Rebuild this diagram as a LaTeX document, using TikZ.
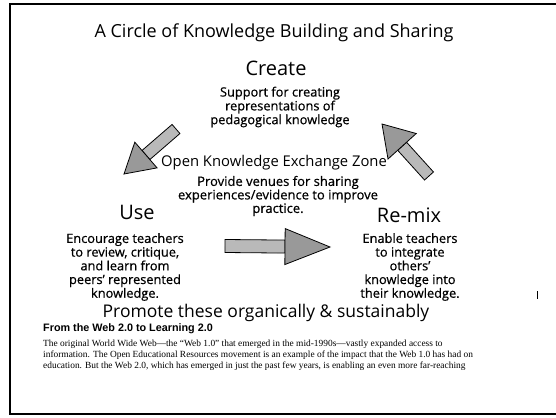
\documentclass[tikz,border=0pt]{standalone}
\usepackage{fontspec}
\setmainfont{Open Sans}
\newfontfamily\bodyfont[FakeBold=0.6]{Open Sans}
\newfontfamily\arialfont{Liberation Sans}
\newfontfamily\timesfont{Liberation Serif}
\usetikzlibrary{calc}
\tikzset{
  big/.style={font=\fontsize{20}{22}\selectfont, inner sep=0pt},
  head/.style={font=\fontsize{18}{20}\selectfont, inner sep=0pt},
  body/.style={font=\bodyfont\fontsize{12.8}{13.7}\selectfont, align=center, inner sep=0pt},
  shaftfill/.style={fill=gray!55, draw=black, line width=0.8pt},
  headfill/.style={fill=gray!80, draw=black, line width=0.8pt},
  frame/.style={line width=2pt, black}
}
\newcommand{\fatarrow}[5]{% tail, tip, shaft half width, head length, head half width
  \coordinate (faT) at #1;
  \coordinate (faP) at #2;
  \coordinate (faB) at ($(faP)!#4!(faT)$);
  \filldraw[shaftfill] ($(faT)!#3!90:(faP)$) -- ($(faB)!#3!-90:(faT)$) -- ($(faB)!#3!90:(faT)$) -- ($(faT)!#3!-90:(faP)$) -- cycle;
  \filldraw[headfill] ($(faB)!#5!-90:(faT)$) -- (faP) -- ($(faB)!#5!90:(faT)$) -- cycle;
}
\begin{document}
\begin{tikzpicture}[x=1pt,y=-1pt]
\useasboundingbox (0,0) rectangle (556,417);
\fill[white] (0,0) rectangle (556,417);
% frame
\draw[frame] (556,4) -- (10,4) -- (10,414) -- (556,414);
\draw[line width=0.6pt] (537,291) -- (537,299);

\node[head] (title) at (274,33) {A Circle of Knowledge Building and Sharing};
\node[big] (create) at (276,68) {Create};
\node[body, font=\bodyfont\fontsize{12.8}{12.5}\selectfont] (createtxt) at (280,107) {Support for creating\\representations of\\pedagogical knowledge};

\node[font=\fontsize{14.8}{17}\selectfont, inner sep=0pt] (zone) at (274,163) {Open Knowledge Exchange Zone};
\node[body, font=\bodyfont\fontsize{13}{13.5}\selectfont] (zonetxt) at (278,196) {Provide venues for sharing\\experiences/evidence to improve\\practice.};

\node[big] (use) at (137,212) {Use};
\node[body] (usetxt) at (125,267) {Encourage teachers\\to review, critique,\\and learn from\\peers’ represented\\knowledge.};

\node[big] (remix) at (409,215) {Re-mix};
\node[body] (remixtxt) at (410,267) {Enable teachers\\to integrate\\others’\\knowledge into\\their knowledge.};

\node[head, font=\fontsize{17.5}{20}\selectfont] (promote) at (266,313) {Promote these organically \& sustainably};

\node[anchor=west, inner sep=0pt, font=\arialfont\bfseries\fontsize{10.8}{12}\selectfont] (web) at (43,329) {From the Web 2.0 to Learning 2.0};
\node[anchor=north west, inner sep=0pt, align=left, font=\timesfont\fontsize{9.4}{11}\selectfont] (para) at (43,340)
  {The original World Wide Web—the “Web 1.0” that emerged in the mid-1990s—vastly expanded access to\\
   information. The Open Educational Resources movement is an example of the impact that the Web 1.0 has had on\\
   education. But the Web 2.0, which has emerged in just the past few years, is enabling an even more far-reaching};

% arrows
\fatarrow{(176,129)}{(124,174)}{6pt}{29pt}{17pt}
\fatarrow{(429,176)}{(382,124)}{6pt}{30pt}{19pt}
\fatarrow{(225,246)}{(330,247)}{6.5pt}{45pt}{18pt}
\end{tikzpicture}
\end{document}
